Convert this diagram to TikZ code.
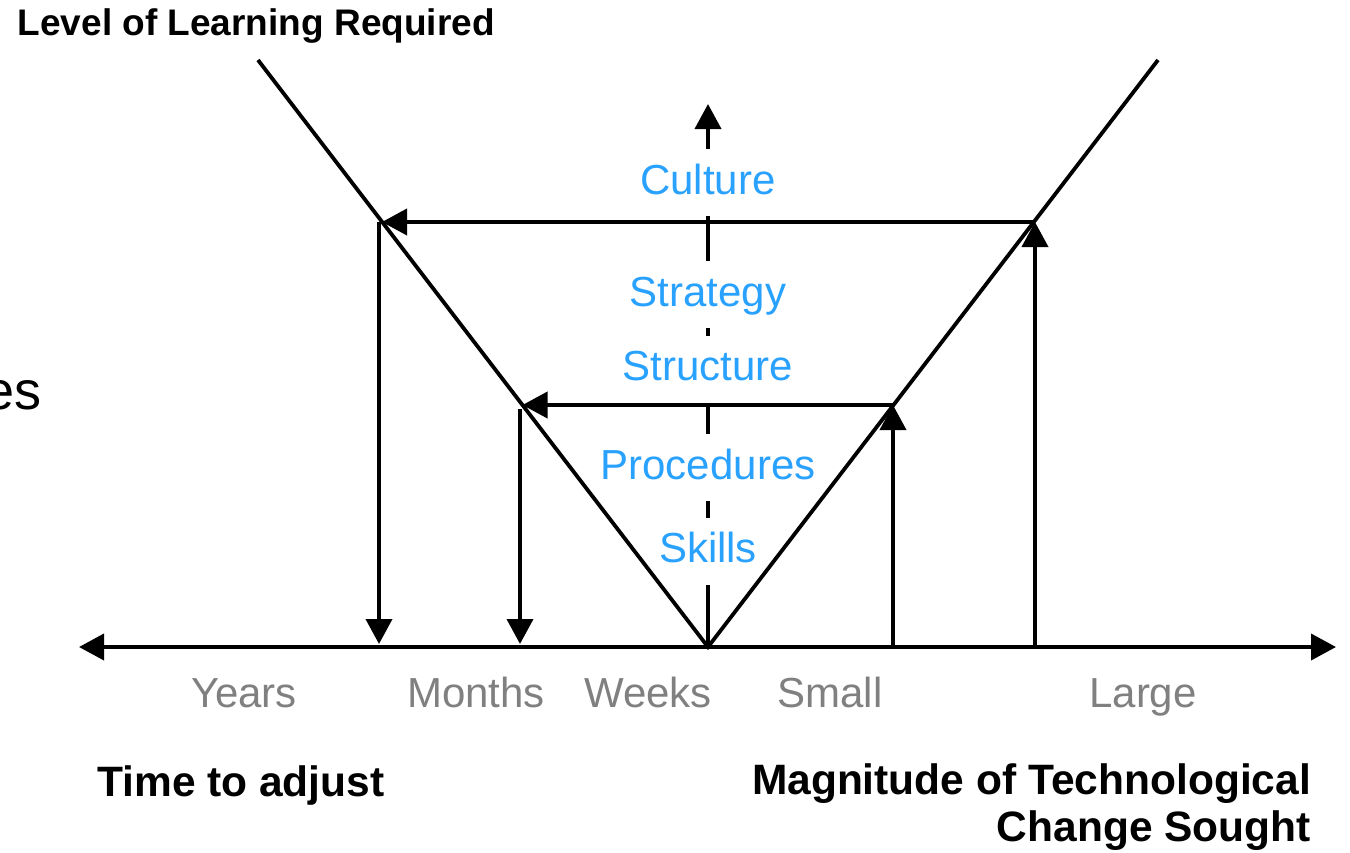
\documentclass[tikz,border=0pt]{standalone}
\usepackage{fontspec}
\setmainfont{Liberation Sans}
\usetikzlibrary{arrows.meta}
\definecolor{lblue}{RGB}{41,161,255}
\definecolor{lgray}{RGB}{128,128,128}
\begin{document}
\begin{tikzpicture}[x=1pt,y=-1pt,
  thick line/.style={line width=3.8pt},
  arr/.style={line width=3.8pt,-{Triangle[length=25pt,width=26pt]}},
  darr/.style={line width=3.8pt,{Triangle[length=25pt,width=26pt]}-{Triangle[length=25pt,width=26pt]}},
  levellbl/.style={fill=white,text=lblue,font=\fontsize{42}{48}\selectfont,text height=33pt,text depth=10pt,inner xsep=2pt,inner ysep=12pt},
  unitlbl/.style={text=lgray,font=\fontsize{42}{48}\selectfont,anchor=base,inner sep=0pt},
  titlelbl/.style={font=\bfseries\fontsize{42.5}{47}\selectfont,inner sep=0pt}]
\useasboundingbox (0,0) rectangle (1350,852);
\fill[white] (0,0) rectangle (1350,852);

% key points
\coordinate (Vtop) at (258,60);
\coordinate (O) at (708,647);
\coordinate (Rtop) at (1158,60);
\coordinate (L1) at (382,222);
\coordinate (R1) at (1034,222);
\coordinate (L2) at (522.5,405);
\coordinate (R2) at (893.5,405);
\coordinate (AxL) at (79,647);
\coordinate (AxR) at (1336,647);
\coordinate (Ctop) at (708,104);
\coordinate (D1s) at (379,222);
\coordinate (D1e) at (379,644);
\coordinate (D2s) at (520,409);
\coordinate (D2e) at (520,644);
\coordinate (U1s) at (1035,647);
\coordinate (U1e) at (1035,222);
\coordinate (U2s) at (893,647);
\coordinate (U2e) at (893,405);

% central vertical arrow
\draw[arr] (O) -- (Ctop);

% level labels (white boxes interrupt the central arrow)
\node[levellbl] (culture) at (708,182.5) {Culture};
\node[levellbl] (strategy) at (708,294.5) {Strategy};
\node[levellbl] (structure) at (708,369) {Structure};
\node[levellbl] (procedures) at (708,467.5) {Procedures};
\node[levellbl] (skills) at (708,551) {Skills};

% V shape
\draw[thick line] (Vtop) -- (O) -- (Rtop);

% axis
\draw[darr] (AxL) -- (AxR);

% horizontal arrows
\draw[arr] (R1) -- (L1);
\draw[arr] (R2) -- (L2);

% vertical arrows
\draw[arr] (D1s) -- (D1e);
\draw[arr] (D2s) -- (D2e);
\draw[arr] (U1s) -- (U1e);
\draw[arr] (U2s) -- (U2e);

% axis labels
\node[unitlbl] (years) at (244,707) {Years};
\node[unitlbl] (months) at (476,707) {Months};
\node[unitlbl] (weeks) at (648,707) {Weeks};
\node[unitlbl] (small) at (830,707) {Small};
\node[unitlbl] (large) at (1143,707) {Large};

% titles
\node[titlelbl,anchor=base west,font=\bfseries\fontsize{37}{42}\selectfont] (ylabel) at (17.5,35) {Level of Learning Required};
\node[titlelbl,anchor=base west] (time) at (97,796) {Time to adjust};
\node[titlelbl,anchor=base east] (mag1) at (1311,794) {Magnitude of Technological};
\node[titlelbl,anchor=base east] (mag2) at (1311,841) {Change Sought};

% text at left edge, cut off by the picture's border as in the reference
\node[anchor=base east,inner sep=0pt,font=\fontsize{54}{60}\selectfont] (es) at (42,409) {es};
\end{tikzpicture}
\end{document}
